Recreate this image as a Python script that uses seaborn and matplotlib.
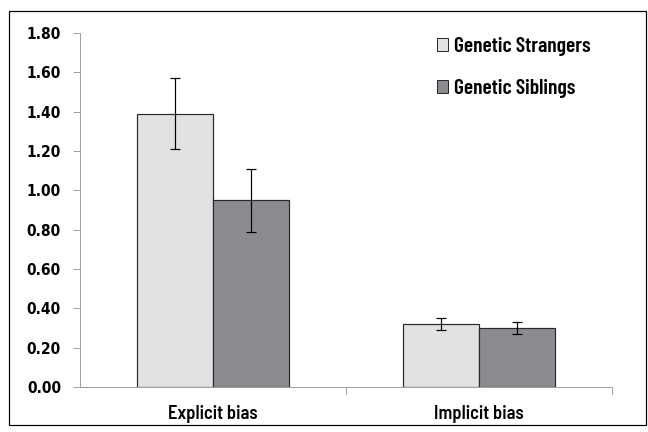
import matplotlib
matplotlib.use("Agg")
import matplotlib.pyplot as plt
import seaborn as sns
import pandas as pd
import numpy as np
from matplotlib.patches import Rectangle
from matplotlib.font_manager import FontProperties

categories = ["Explicit bias", "Implicit bias"]
groups = ["Genetic Strangers", "Genetic Siblings"]
strangers = [1.39, 0.32]
siblings = [0.95, 0.30]
strangers_err = [0.18, 0.03]
siblings_err = [0.16, 0.03]
yticks = [0.0, 0.2, 0.4, 0.6, 0.8, 1.0, 1.2, 1.4, 1.6, 1.8]

sns.set_style("white")
plt.rcParams['font.family'] = ['Barlow Semi Condensed', 'DejaVu Sans']
plt.rcParams['font.weight'] = 600
plt.rcParams['text.color'] = 'black'
plt.rcParams['xtick.color'] = 'black'
plt.rcParams['ytick.color'] = 'black'

df = pd.DataFrame({
    "cat": categories * 2,
    "group": [groups[0]] * 2 + [groups[1]] * 2,
    "val": strangers + siblings,
})

fig = plt.figure(figsize=(9, 6), dpi=72)
ax = fig.add_axes([80/648, 1-387/432, 532/648, 354/432])
sns.barplot(data=df, x="cat", y="val", hue="group", order=categories, hue_order=groups,
            palette=["#E1E2E4", "#8B8C90"], edgecolor="#2a2a2a", linewidth=1.2,
            width=0.57, errorbar=None, ax=ax, saturation=1)

errs = strangers_err + siblings_err
vals = strangers + siblings
bars = [p for p in ax.patches if p.get_height() > 0][:4]
for p, v, e in zip(bars, vals, errs):
    x = p.get_x() + p.get_width() / 2
    ax.errorbar(x, v, yerr=e, fmt='none', ecolor='black', elinewidth=1.2, capsize=5, capthick=1.2)

ytick_fp = FontProperties(family='DejaVu Sans', stretch='condensed', weight='bold', size=15.5)
ax.set_ylim(0, 1.8)
ax.set_yticks(yticks)
ax.set_yticklabels([f"{t:.2f}" for t in yticks], fontproperties=ytick_fp, color='black')
ax.set_xlim(-0.5, 1.5)
ax.set_xlabel("")
ax.set_ylabel("")
for lab in ax.get_xticklabels():
    lab.set_fontsize(18.5)
    lab.set_fontweight(600)
    lab.set_color('black')
ax.tick_params(axis='x', length=0, pad=18)
ax.tick_params(axis='y', length=7, color='#a0a0a0', direction='out', pad=12, left=True, width=1)
for xx in [0.5, 1.5]:
    ax.plot([xx, xx], [0, -0.035], color='#a0a0a0', lw=1, clip_on=False)
for s in ['top', 'right']:
    ax.spines[s].set_visible(False)
for s in ['left', 'bottom']:
    ax.spines[s].set_color('#a0a0a0')
    ax.spines[s].set_linewidth(1)

leg_fp = FontProperties(family=['Barlow Condensed', 'DejaVu Sans'], weight=600, size=21.5)
leg = ax.legend(loc='upper left', bbox_to_anchor=(357/532, 0.988), frameon=False,
                prop=leg_fp, handlelength=0.52, handleheight=0.52, handletextpad=0.28,
                labelspacing=1.06, borderpad=0, borderaxespad=0)
for h in leg.legend_handles:
    h.set_edgecolor('#2a2a2a')
    h.set_linewidth(1)
for t in leg.get_texts():
    t.set_color('black')

fig.add_artist(Rectangle((9/648, 7/432), 637/648, 414/432, transform=fig.transFigure,
                         fill=False, ec='black', lw=1.2))
fig.savefig("out.png", dpi=72)
